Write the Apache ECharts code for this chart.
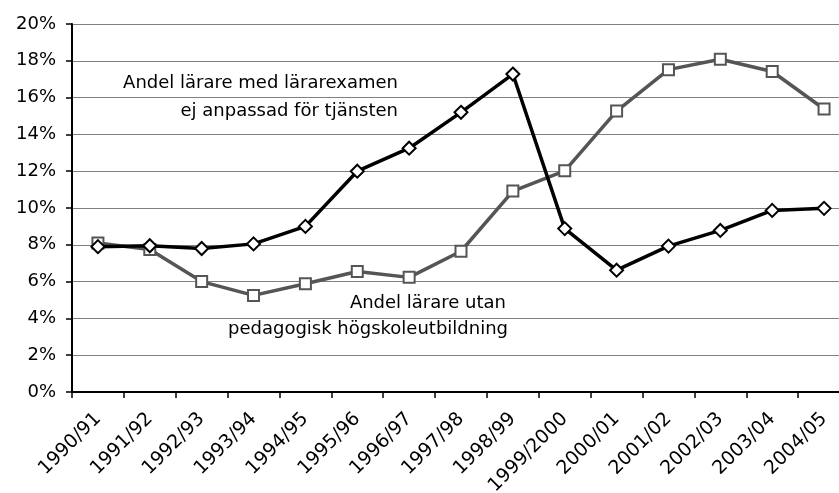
<!DOCTYPE html>
<html>
<head>
<meta charset="utf-8">
<script src="https://cdn.jsdelivr.net/npm/echarts@6/dist/echarts.min.js"></script>
<style>
  html, body { margin: 0; padding: 0; background: #fff; overflow: hidden; }
  /* diagrammet är beskuret till höger, därför bredare än fönstret */
  #chart { width: 851px; height: 493px; }
</style>
</head>
<body>
<div id="chart"></div>
<script>
// läsår
let years = ['1990/91','1991/92','1992/93','1993/94','1994/95','1995/96','1996/97','1997/98',
    '1998/99','1999/2000','2000/01','2001/02','2002/03','2003/04','2004/05']
// andel lärare med lärarexamen ej anpassad för tjänsten (%)
let medExamen = [7.9, 7.95, 7.8, 8.05, 9.0, 12.0, 13.25, 15.2, 17.28, 8.88, 6.62, 7.93, 8.78, 9.87, 9.98]
// andel lärare utan pedagogisk högskoleutbildning (%)
let utanUtb = [8.1, 7.75, 6.0, 5.25, 5.88, 6.55, 6.23, 7.65, 10.92, 12.02, 15.27, 17.52, 18.08, 17.42, 15.38]
let yTicks = [0, 2, 4, 6, 8, 10, 12, 14, 16, 18, 20]

let myFont = 'DejaVu Sans'
var chart = echarts.init(document.getElementById('chart'))

option = {
    backgroundColor: '#fff',
    animation: false,
    grid: { left: 72, top: 24, width: 778, height: 368, outerBoundsMode: 'none' },
    xAxis: {
        type: 'category',
        data: years,
        boundaryGap: true,
        axisLine: { lineStyle: { color: '#000', width: 2 } },
        axisTick: { show: true, length: 6, lineStyle: { color: '#000', width: 1.5 } },
        axisLabel: {
            rotate: 45,
            margin: 24,
            interval: 0,
            color: '#000',
            fontFamily: myFont,
            fontSize: 19
        },
        splitLine: { show: false }
    },
    yAxis: {
        type: 'value',
        min: yTicks[0],
        max: yTicks[yTicks.length - 1],
        interval: 2,
        axisLine: { show: true, lineStyle: { color: '#000', width: 2 } },
        axisTick: { show: true, length: 6, lineStyle: { color: '#000', width: 1.5 } },
        axisLabel: {
            formatter: '{value}%',
            margin: 16,
            color: '#000',
            fontFamily: myFont,
            fontSize: 18
        },
        splitLine: { lineStyle: { color: '#808080', width: 1 } }
    },
    graphic: [
        {
            type: 'text', x: 398, y: 83,
            style: { text: 'Andel lärare med lärarexamen', textAlign: 'right', textVerticalAlign: 'middle',
                font: '18px "DejaVu Sans"', fill: '#000' }
        },
        {
            type: 'text', x: 398, y: 111,
            style: { text: 'ej anpassad för tjänsten', textAlign: 'right', textVerticalAlign: 'middle',
                font: '18px "DejaVu Sans"', fill: '#000' }
        },
        {
            type: 'text', x: 506, y: 303,
            style: { text: 'Andel lärare utan', textAlign: 'right', textVerticalAlign: 'middle',
                font: '18px "DejaVu Sans"', fill: '#000' }
        },
        {
            type: 'text', x: 508, y: 329,
            style: { text: 'pedagogisk högskoleutbildning', textAlign: 'right', textVerticalAlign: 'middle',
                font: '18px "DejaVu Sans"', fill: '#000' }
        }
    ],
    series: [
        {
            name: 'utan',
            type: 'line',
            data: utanUtb,
            symbol: 'rect',
            symbolSize: 11,
            lineStyle: { color: '#555', width: 3.5 },
            itemStyle: { color: '#fff', borderColor: '#555', borderWidth: 2 },
            z: 3
        },
        {
            name: 'med',
            type: 'line',
            data: medExamen,
            symbol: 'diamond',
            symbolSize: 13,
            lineStyle: { color: '#000', width: 3.5 },
            itemStyle: { color: '#fff', borderColor: '#000', borderWidth: 2 },
            z: 4
        }
    ]
}

chart.setOption(option)
</script>
</body>
</html>
